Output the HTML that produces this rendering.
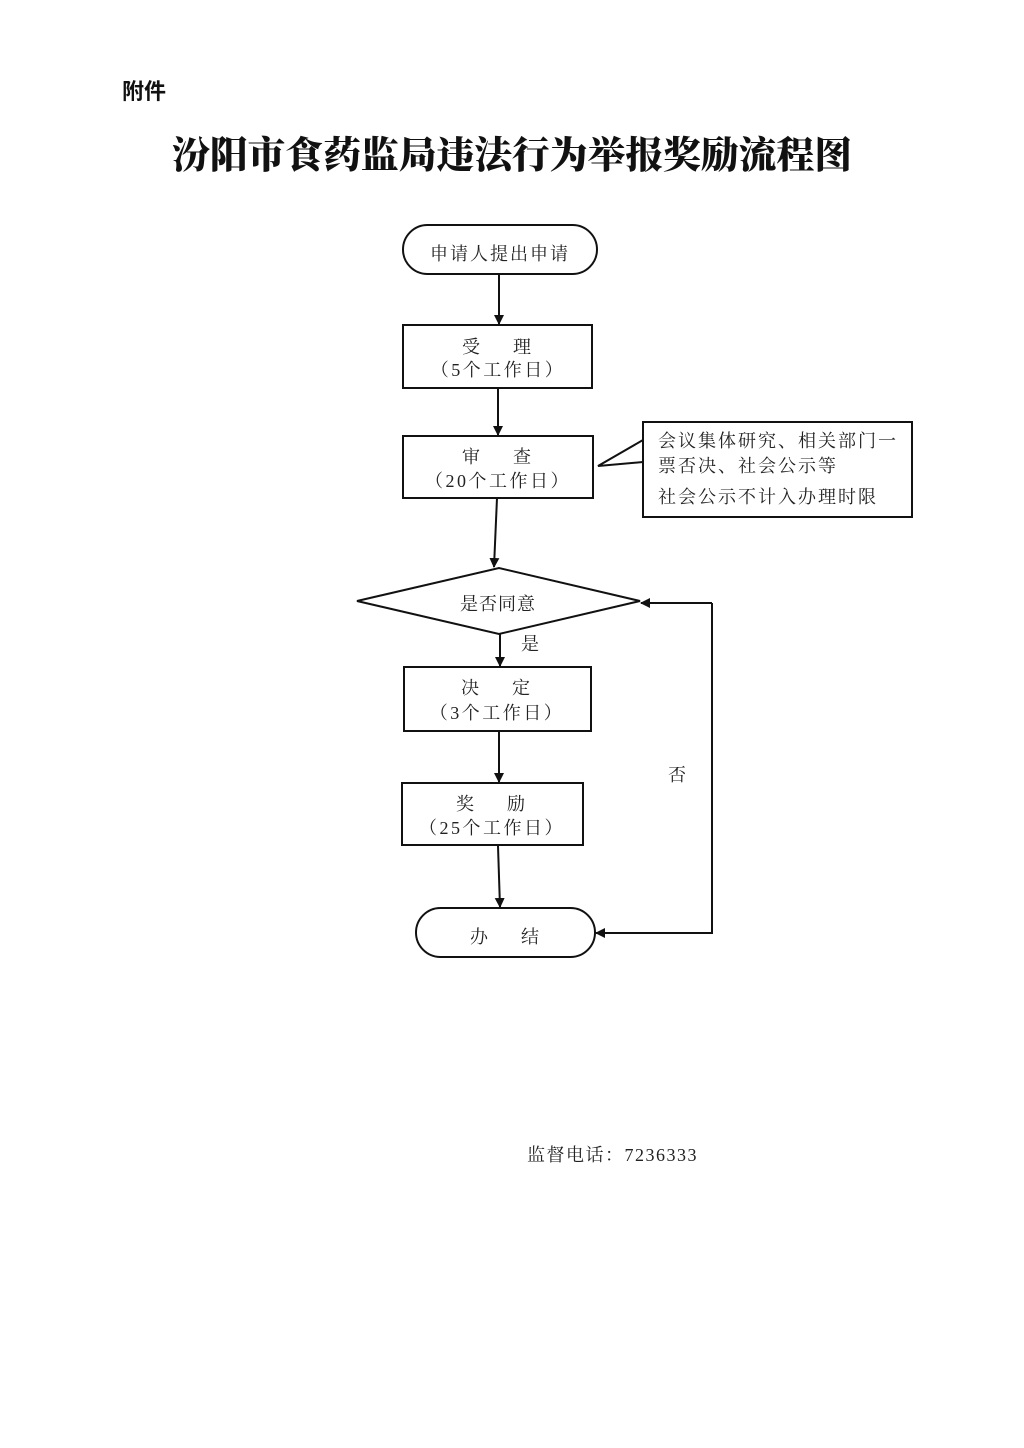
<!DOCTYPE html>
<html><head><meta charset="utf-8">
<style>
html,body{margin:0;padding:0;background:#fff;}
svg{display:block;}
.t{font-family:"Liberation Serif","Noto Serif CJK SC",serif;font-size:18px;fill:#222;}
</style></head>
<body>
<svg width="1024" height="1448" viewBox="0 0 1024 1448" xmlns="http://www.w3.org/2000/svg">
<defs>
<marker id="a" markerWidth="10" markerHeight="10" refX="9" refY="5" orient="auto" markerUnits="userSpaceOnUse">
<path d="M0,0 L10,5 L0,10 z" fill="#111"/></marker>
</defs>
<text x="122" y="99" font-family="'Liberation Sans','Noto Sans CJK SC',sans-serif" font-weight="bold" font-size="22" fill="#111">附件</text>
<text x="512" y="168" text-anchor="middle" font-family="'Liberation Serif','Noto Serif CJK SC',serif" font-weight="900" font-size="37.5" fill="#111" textLength="680" lengthAdjust="spacingAndGlyphs">汾阳市食药监局违法行为举报奖励流程图</text>

<g stroke="#111" stroke-width="2" fill="none">
<rect x="403" y="225" width="194" height="49" rx="24.5"/>
<rect x="403" y="325" width="189" height="63"/>
<rect x="403" y="436" width="190" height="62"/>
<path d="M643,440 L598,466 L643,462"/>
<rect x="643" y="422" width="269" height="95"/>
<polygon points="357,601 499,568 640,601 499,634"/>
<rect x="404" y="667" width="187" height="64"/>
<rect x="402" y="783" width="181" height="62"/>
<rect x="416" y="908" width="179" height="49" rx="24.5"/>
</g>
<g stroke="#111" stroke-width="2" fill="none" marker-end="url(#a)">
<line x1="499" y1="274" x2="499" y2="324"/>
<line x1="498" y1="388" x2="498" y2="435"/>
<line x1="497" y1="498" x2="494" y2="567"/>
<line x1="500" y1="634" x2="500" y2="666"/>
<line x1="499" y1="731" x2="499" y2="782"/>
<line x1="498" y1="846" x2="500" y2="907"/>
<polyline points="712,603 712,933 596,933"/>
</g>
<line x1="712" y1="603" x2="641" y2="603" stroke="#111" stroke-width="2" marker-end="url(#a)"/>

<g class="t">
<text x="500" y="260" text-anchor="middle" letter-spacing="2">申请人提出申请</text>
<text x="498" y="353" text-anchor="middle" xml:space="preserve" letter-spacing="3">受    理</text>
<text x="498" y="376" text-anchor="middle" letter-spacing="2.5">（5个工作日）</text>
<text x="498" y="463" text-anchor="middle" xml:space="preserve" letter-spacing="3">审    查</text>
<text x="498" y="487" text-anchor="middle" letter-spacing="2.5">（20个工作日）</text>
<text x="658" y="447" letter-spacing="2">会议集体研究、相关部门一</text>
<text x="658" y="472" letter-spacing="2">票否决、社会公示等</text>
<text x="658" y="503" letter-spacing="2">社会公示不计入办理时限</text>
<text x="498" y="610" text-anchor="middle" letter-spacing="1">是否同意</text>
<text x="521" y="650">是</text>
<text x="497" y="694" text-anchor="middle" xml:space="preserve" letter-spacing="3">决    定</text>
<text x="497" y="719" text-anchor="middle" letter-spacing="2.5">（3个工作日）</text>
<text x="492" y="810" text-anchor="middle" xml:space="preserve" letter-spacing="3">奖    励</text>
<text x="492" y="834" text-anchor="middle" letter-spacing="2.5">（25个工作日）</text>
<text x="668" y="781">否</text>
<text x="506" y="943" text-anchor="middle" xml:space="preserve" letter-spacing="3">办    结</text>
<text x="527" y="1161" letter-spacing="1.5">监督电话：7236333</text>
</g>
</svg>
</body></html>
